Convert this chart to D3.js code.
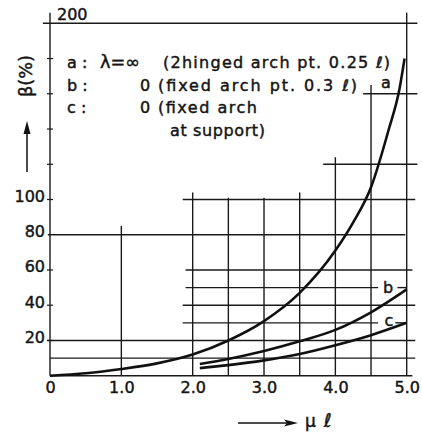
<!DOCTYPE html>
<html>
<head>
<meta charset="utf-8">
<script src="https://cdn.jsdelivr.net/npm/d3@7"></script>
<style>
  body { margin: 0; background: #fff; }
  svg text { font-family: 'DejaVu Sans', sans-serif; fill: #151515; stroke: #151515; stroke-width: 0.45px; }
</style>
</head>
<body>
<svg id="chart" width="422" height="433"></svg>
<script>
// β(%) against μℓ
const curveA = [[0,0],[0.5,1.4],[1.0,3.8],[1.5,7],[2.0,12],[2.5,20],[3.0,31],[3.5,47],[4.0,71],[4.25,87],[4.5,107],[4.75,140],[4.9,163],[4.97,180]]
const curveB = [[2.1,6.6],[2.5,9.5],[3.0,14],[3.5,19.5],[4.0,26],[4.5,36],[5.0,49]]
const curveC = [[2.1,4.3],[2.5,6],[3.0,8.7],[3.5,12.3],[4.0,17.3],[4.5,23],[5.0,30]]

const xTicks = [0, 1, 2, 3, 4, 5]
const yLabels = [20, 40, 60, 80, 100]
const yTickMarks = [20, 40, 60, 100, 120, 140, 160, 180]

// the grid in the original is only partly drawn: [value, from, to]
const hGrid = [[200,-0.1,5.15],[160,4.39,5.15],[120,3.83,5.15],[100,1.86,5.12],[80,-0.03,4.98],
	[60,1.9,5.08],[50,1.9,4.6],[50,4.87,5.0],[40,1.86,5.12],[30,1.86,4.6],[30,4.84,5.0],
	[20,-0.04,5.12],[10,0,5.12],[0,0,5.08]]
const vGrid = [[0,0,206],[1,0,85],[2,0,104],[2.5,0,101],[3,0,101],[3.5,0,104],[4,0,124],[4.5,0,165],[5,0,206]]

const curveLabels = [
	{name: 'a', x: 4.71, y: 163},
	{name: 'b', x: 4.74, y: 47},
	{name: 'c', x: 4.75, y: 28}
]

const legendRows = [
	['a :', 'λ=∞', '(2hinged arch pt. 0.25 ℓ)'],
	['b :', '0', '(fixed arch pt. 0.3 ℓ)'],
	['c :', '0', '(fixed arch'],
	['', '', 'at support)']
]

let svg = d3.select('#chart')

let x = d3.scaleLinear()
	.domain([0, 5])
	.range([50, 406.7])

let y = d3.scaleLinear()
	.domain([0, 200])
	.range([375.7, 23.3])

// grid
svg.append('g')
	.attr('stroke', '#1a1a1a')
	.attr('stroke-width', 1.4)
	.selectAll('line')
	.data(hGrid)
	.join('line')
		.attr('x1', d => x(d[1]))
		.attr('x2', d => x(d[2]))
		.attr('y1', d => y(d[0]))
		.attr('y2', d => y(d[0]))

svg.append('g')
	.attr('stroke', '#1a1a1a')
	.attr('stroke-width', 1.4)
	.selectAll('line')
	.data(vGrid)
	.join('line')
		.attr('x1', d => x(d[0]))
		.attr('x2', d => x(d[0]))
		.attr('y1', d => y(d[1]))
		.attr('y2', d => y(d[2]))

// small ticks across the left axis
svg.append('g')
	.attr('stroke', '#1a1a1a')
	.attr('stroke-width', 1.2)
	.selectAll('line')
	.data(yTickMarks)
	.join('line')
		.attr('x1', x(0) - 3)
		.attr('x2', x(0) + 3)
		.attr('y1', d => y(d))
		.attr('y2', d => y(d))

// curves
let line = d3.line()
	.x(d => x(d[0]))
	.y(d => y(d[1]))
	.curve(d3.curveMonotoneX)

svg.append('g')
	.attr('fill', 'none')
	.attr('stroke', '#111')
	.attr('stroke-width', 2.6)
	.selectAll('path')
	.data([curveA, curveB, curveC])
	.join('path')
		.attr('d', line)

svg.append('g')
	.attr('font-size', 16)
	.attr('text-anchor', 'middle')
	.selectAll('text')
	.data(curveLabels)
	.join('text')
		.attr('x', d => x(d.x))
		.attr('y', d => y(d.y))
		.text(d => d.name)

// axes
let xAxis = g => g
	.attr('transform', `translate(0,${y(0)})`)
	.call(d3.axisBottom(x).tickValues(xTicks).tickSize(0).tickPadding(6)
		.tickFormat(d => d === 0 ? '0' : d.toFixed(1)))
	.call(g => g.select('.domain').remove())

let yAxis = g => g
	.attr('transform', `translate(${x(0)},0)`)
	.call(d3.axisLeft(y).tickValues(yLabels).tickSize(0).tickPadding(5))
	.call(g => g.select('.domain').remove())
	.call(g => g.selectAll('text').attr('dy', 2))

svg.append('g').call(xAxis)
svg.append('g').call(yAxis)
svg.selectAll('.tick text')
	.attr('font-size', 16)
	.attr('font-family', "'DejaVu Sans', sans-serif")
	.attr('fill', '#151515')

svg.append('text')
	.attr('x', x(0) + 7)
	.attr('y', y(200) - 3.5)
	.attr('font-size', 16)
	.text('200')

// legend
let legend = svg.append('g').attr('font-size', 16)
legendRows.forEach((r, i) => {
	let by = 68 + i * 22.6
	legend.append('text').attr('x', 67).attr('y', by).attr('xml:space', 'preserve').text(r[0])
	if (r[1] === '0') {
		legend.append('text').attr('x', 140).attr('y', by).text(r[1])
	} else if (r[1]) {
		legend.append('text').attr('x', 100).attr('y', by).attr('font-size', 17)
			.attr('lengthAdjust', 'spacingAndGlyphs').attr('textLength', 40).text(r[1])
	}
	legend.append('text')
		.attr('x', i === 0 ? 163 : (i === 3 ? 170 : 158))
		.attr('y', by)
		.attr('lengthAdjust', 'spacing')
		.attr('textLength', [227, 199, 99, 95][i])
		.text(r[2])
})

// axis titles with arrows
svg.append('text')
	.attr('transform', 'translate(32,76) rotate(-90)')
	.attr('text-anchor', 'middle')
	.attr('font-size', 18)
	.attr('lengthAdjust', 'spacingAndGlyphs')
	.attr('textLength', 42)
	.text('β(%)')

svg.append('line')
	.attr('x1', 27).attr('x2', 27).attr('y1', 172).attr('y2', 130)
	.attr('stroke', '#111').attr('stroke-width', 1.5)
svg.append('path')
	.attr('d', 'M27,121 L23.5,134 L30.5,134 Z')
	.attr('fill', '#111')

svg.append('line')
	.attr('x1', 238).attr('x2', 290).attr('y1', 423).attr('y2', 423)
	.attr('stroke', '#111').attr('stroke-width', 1.5)
svg.append('path')
	.attr('d', 'M298,423 L284,419.5 L287,423 L284,426.5 Z')
	.attr('fill', '#111')

let xt = svg.append('text')
	.attr('x', 305)
	.attr('y', 427)
	.attr('font-size', 17)
xt.append('tspan').text('μ')
xt.append('tspan').attr('dx', 8).attr('font-size', 19).attr('font-style', 'italic').text('ℓ')
</script>
</body>
</html>
